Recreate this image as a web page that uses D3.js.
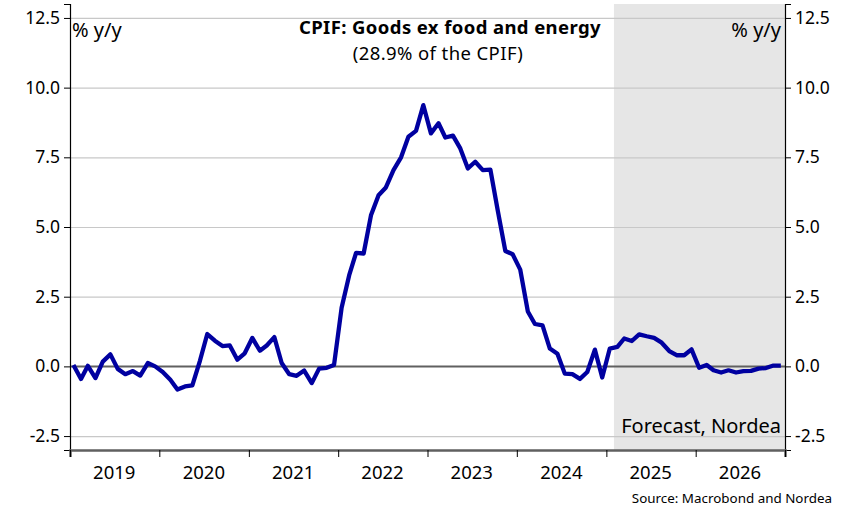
<!DOCTYPE html>
<html>
<head>
<meta charset="utf-8">
<script src="https://cdn.jsdelivr.net/npm/d3@7"></script>
<style>
    body { margin: 0; background: #fff; }
    svg { font-family: "Noto Sans", sans-serif; }
    .grid line { stroke: #c8c8c8; stroke-width: 1.2; }
    .grid path { display: none; }
</style>
</head>
<body>
<svg id="chart" width="848" height="510"></svg>
<script>
// monthly values, % y/y
const years = [2019, 2020, 2021, 2022, 2023, 2024, 2025, 2026];
const values2019 = [0.05, -0.45, 0.02, -0.42, 0.17, 0.43, -0.09, -0.28, -0.17, -0.33, 0.12, 0.0];
const values2020 = [-0.2, -0.48, -0.83, -0.72, -0.68, 0.2, 1.16, 0.92, 0.73, 0.75, 0.24, 0.47];
const values2021 = [1.02, 0.56, 0.75, 1.05, 0.12, -0.28, -0.34, -0.15, -0.6, -0.08, -0.05, 0.05];
const values2022 = [2.1, 3.27, 4.07, 4.05, 5.42, 6.14, 6.42, 7.04, 7.5, 8.24, 8.45, 9.37];
const values2023 = [8.36, 8.72, 8.21, 8.28, 7.82, 7.1, 7.34, 7.04, 7.06, 5.6, 4.14, 4.02];
const values2024 = [3.47, 1.97, 1.52, 1.47, 0.64, 0.45, -0.26, -0.28, -0.45, -0.2, 0.6, -0.4];
const values2025 = [0.64, 0.7, 1.0, 0.91, 1.15, 1.08, 1.02, 0.85, 0.55, 0.4, 0.4, 0.61];
const values2026 = [-0.05, 0.05, -0.14, -0.22, -0.14, -0.22, -0.17, -0.16, -0.08, -0.06, 0.03, 0.03];
const yTicks = [-2.5, 0, 2.5, 5, 7.5, 10, 12.5];
const forecastStart = new Date(2025, 1, 1);

const allValues = [values2019, values2020, values2021, values2022,
                   values2023, values2024, values2025, values2026];

// one point per month, placed mid-month
const series = [];
allValues.forEach((arr, i) => {
    arr.forEach((v, m) => {
        series.push({ date: new Date(years[i], m, 15), value: v });
    });
});

const svg = d3.select('#chart');

const plotLeft = 70, plotRight = 785, plotTop = 4, plotBottom = 450;

const xScale = d3.scaleTime()
    .domain([new Date(2019, 0, 1), new Date(2027, 0, 1)])
    .range([plotLeft, plotRight]);

const yScale = d3.scaleLinear()
    .domain([-3, 13])
    .range([plotBottom, plotTop]);

// forecast shading
svg.append('rect')
    .attr('x', xScale(forecastStart))
    .attr('y', plotTop)
    .attr('width', plotRight - xScale(forecastStart))
    .attr('height', plotBottom - plotTop)
    .attr('fill', '#e6e6e6');

// grid lines
svg.append('g')
    .attr('class', 'grid')
    .attr('transform', `translate(${plotLeft}, 0)`)
    .call(d3.axisLeft(yScale)
        .tickValues(yTicks.filter(t => t !== 0))
        .tickSize(-(plotRight - plotLeft))
        .tickFormat('')
    );

// zero line
svg.append('line')
    .attr('x1', plotLeft)
    .attr('x2', plotRight)
    .attr('y1', yScale(0))
    .attr('y2', yScale(0))
    .attr('stroke', '#606060')
    .attr('stroke-width', 2);

// left axis
const yLeft = svg.append('g')
    .attr('transform', `translate(${plotLeft}, 0)`)
    .call(d3.axisLeft(yScale)
        .tickValues(yTicks)
        .tickSize(6)
        .tickPadding(4)
        .tickFormat(d3.format('.1f'))
    );

// right axis
const yRight = svg.append('g')
    .attr('transform', `translate(${plotRight}, 0)`)
    .call(d3.axisRight(yScale)
        .tickValues(yTicks)
        .tickSize(6)
        .tickPadding(4)
        .tickFormat(d3.format('.1f'))
    );

[yLeft, yRight].forEach(ax => {
    ax.select('.domain').attr('stroke', '#000').attr('stroke-width', 1.2);
    ax.selectAll('.tick line').attr('stroke', '#000');
    ax.selectAll('.tick text')
        .attr('font-size', 17.5)
        .attr('font-family', '"Noto Sans", sans-serif')
        .attr('fill', '#000')
        .text(d => d3.format('.1f')(d).replace('\u2212', '-'));
});

// bottom axis: ticks at year boundaries, labels mid-year
const xAxis = svg.append('g')
    .attr('transform', `translate(0, ${plotBottom})`)
    .call(d3.axisBottom(xScale)
        .tickValues(years.concat([2027]).map(y => new Date(y, 0, 1)))
        .tickSize(7)
        .tickFormat('')
    );
xAxis.select('.domain').attr('stroke', '#606060').attr('stroke-width', 2.5);
xAxis.selectAll('.tick line').attr('stroke', '#000');

svg.append('g')
    .selectAll('text')
    .data(years)
    .enter()
    .append('text')
    .attr('x', d => xScale(new Date(d, 6, 1)))
    .attr('y', 479)
    .attr('text-anchor', 'middle')
    .attr('font-size', 18.5)
    .text(d => d);

// the series line
const line = d3.line()
    .x(d => xScale(d.date))
    .y(d => yScale(d.value));

svg.append('path')
    .datum(series)
    .attr('d', line)
    .attr('fill', 'none')
    .attr('stroke', '#0000a0')
    .attr('stroke-width', 4.3)
    .attr('stroke-linejoin', 'round');

// texts
svg.append('text')
    .attr('x', 72)
    .attr('y', 37)
    .attr('font-size', 20)
    .text('% y/y');

svg.append('text')
    .attr('x', 781)
    .attr('y', 37)
    .attr('text-anchor', 'end')
    .attr('font-size', 20)
    .text('% y/y');

svg.append('text')
    .attr('x', 450)
    .attr('y', 34)
    .attr('text-anchor', 'middle')
    .attr('font-size', 18.5)
    .attr('font-weight', 'bold')
    .attr('letter-spacing', 0.4)
    .text('CPIF: Goods ex food and energy');

svg.append('text')
    .attr('x', 438)
    .attr('y', 60)
    .attr('text-anchor', 'middle')
    .attr('font-size', 18.5)
    .attr('letter-spacing', 0.4)
    .text('(28.9% of the CPIF)');

svg.append('text')
    .attr('x', 781)
    .attr('y', 433)
    .attr('text-anchor', 'end')
    .attr('font-size', 20)
    .text('Forecast, Nordea');

svg.append('text')
    .attr('x', 832)
    .attr('y', 503)
    .attr('text-anchor', 'end')
    .attr('font-size', 13.4)
    .text('Source: Macrobond and Nordea');
</script>
</body>
</html>
